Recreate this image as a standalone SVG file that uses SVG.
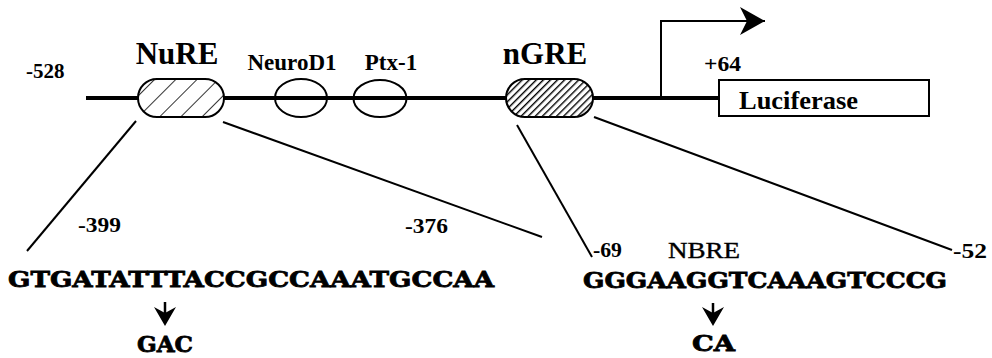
<svg xmlns="http://www.w3.org/2000/svg" width="992" height="358" viewBox="0 0 992 358">
<style>
.lbl{font-family:"Liberation Serif","Times New Roman",serif;font-weight:bold;fill:#000}
.seq{font-family:"DejaVu Serif",serif;font-weight:bold;font-size:23px;fill:#000;stroke:#000;stroke-width:0.8}
.thin{stroke:#000;stroke-width:2;fill:none}
.el{stroke:#000;stroke-width:2;fill:none}
</style>
<defs>
<pattern id="hSparse" width="15" height="15" patternUnits="userSpaceOnUse" patternTransform="rotate(45)">
<rect width="15" height="15" fill="#fff"/>
<line x1="0" y1="0" x2="0" y2="15" stroke="#000" stroke-width="1.6"/>
</pattern>
<pattern id="hDense" width="5" height="5" patternUnits="userSpaceOnUse" patternTransform="rotate(45)">
<rect width="5" height="5" fill="#fff"/>
<line x1="0" y1="0" x2="0" y2="5" stroke="#000" stroke-width="2.8"/>
</pattern>
<marker id="promArrow" markerWidth="26" markerHeight="30" refX="25" refY="15" orient="auto" markerUnits="userSpaceOnUse">
<path d="M0,1 L25,15 L0,29 L7,15 Z" fill="#000"/>
</marker>
</defs>

<g id="backbone">
<line x1="86" y1="98" x2="719" y2="98" stroke="#000" stroke-width="4"/>
</g>

<g id="connectors">
<line class="thin" x1="136" y1="121" x2="27" y2="251"/>
<line class="thin" x1="223" y1="122" x2="542" y2="237"/>
<line class="thin" x1="517" y1="125" x2="592" y2="257"/>
<line class="thin" x1="594" y1="117" x2="952" y2="250"/>
<path d="M661,98 V21 H765" fill="none" stroke="#000" stroke-width="2" marker-end="url(#promArrow)"/>
</g>

<g id="label-528"><text class="lbl" x="26" y="78" font-size="21">-528</text></g>

<g id="nure">
<rect x="138" y="79" width="86" height="38" rx="19" fill="url(#hSparse)" stroke="#000" stroke-width="2"/>
<text class="lbl" x="177" y="64" font-size="31" text-anchor="middle">NuRE</text>
</g>

<g id="neurod1">
<ellipse class="el" cx="301" cy="98" rx="26" ry="19"/>
<text class="lbl" x="292" y="70" font-size="23" text-anchor="middle">NeuroD1</text>
</g>

<g id="ptx1">
<ellipse class="el" cx="380" cy="98.5" rx="26.5" ry="18.5"/>
<text class="lbl" x="391" y="70" font-size="23" text-anchor="middle">Ptx-1</text>
</g>

<g id="ngre">
<rect x="506" y="79" width="87" height="38" rx="19" fill="url(#hDense)" stroke="#000" stroke-width="2"/>
<text class="lbl" x="545" y="64" font-size="31" text-anchor="middle">nGRE</text>
</g>

<g id="label64"><text class="lbl" x="704" y="71" font-size="21" textLength="37" lengthAdjust="spacingAndGlyphs">+64</text></g>

<g id="luciferase">
<rect x="719" y="80" width="210" height="36" fill="#fff" stroke="#000" stroke-width="2"/>
<text class="lbl" x="739" y="109" font-size="25" textLength="119" lengthAdjust="spacingAndGlyphs">Luciferase</text>
</g>

<g id="nure-seq">
<text class="lbl" x="78" y="232" font-size="22" textLength="43" lengthAdjust="spacingAndGlyphs">-399</text>
<text class="lbl" x="405" y="233" font-size="22" textLength="43" lengthAdjust="spacingAndGlyphs">-376</text>
<text class="seq" x="8" y="287" textLength="486" lengthAdjust="spacingAndGlyphs">GTGATATTTACCGCCAAATGCCAA</text>
<line x1="165" y1="302" x2="165" y2="314" stroke="#000" stroke-width="2.5"/>
<path d="M154,307 L165,326 L176,307 L165,313 Z" fill="#000"/>
<text class="seq" x="137" y="352" textLength="56" lengthAdjust="spacingAndGlyphs">GAC</text>
</g>

<g id="ngre-seq">
<text class="lbl" x="593" y="257" font-size="21" textLength="29" lengthAdjust="spacingAndGlyphs">-69</text>
<text x="668" y="258" font-family="Liberation Serif, Times New Roman, serif" font-size="24" stroke="#000" stroke-width="0.4" textLength="72" lengthAdjust="spacingAndGlyphs">NBRE</text>
<text class="lbl" x="953" y="258" font-size="21" textLength="34" lengthAdjust="spacingAndGlyphs">-52</text>
<text class="seq" x="583" y="288" textLength="364" lengthAdjust="spacingAndGlyphs">GGGAAGGTCAAAGTCCCG</text>
<line x1="713" y1="303" x2="713" y2="314" stroke="#000" stroke-width="2.5"/>
<path d="M702,307 L713,326 L724,307 L713,313 Z" fill="#000"/>
<text class="seq" x="692" y="351" textLength="43" lengthAdjust="spacingAndGlyphs">CA</text>
</g>
</svg>
